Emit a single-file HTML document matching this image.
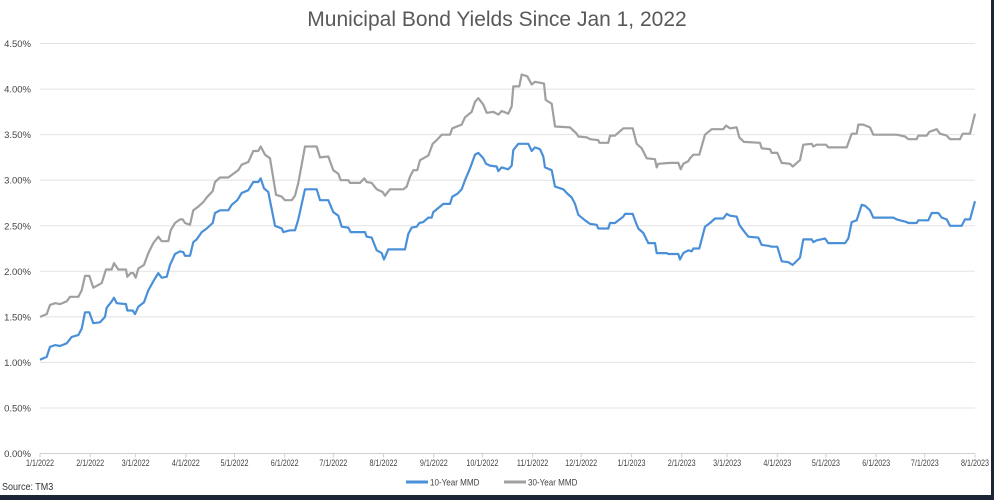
<!DOCTYPE html>
<html><head><meta charset="utf-8"><style>
body{margin:0;background:#fff;}
#wrap{position:relative;width:994px;height:500px;overflow:hidden;font-family:"Liberation Sans",sans-serif;}
</style></head><body>
<div id="wrap">
<svg id="chart" width="994" height="500"></svg>
</div>
<script>
// time units: linear time index, domain [120,2925] spans 1/1/2022 .. 8/1/2023 (577 days)
const yTickValues=[0,0.5,1,1.5,2,2.5,3,3.5,4,4.5];
const yTickLabels=["0.00%","0.50%","1.00%","1.50%","2.00%","2.50%","3.00%","3.50%","4.00%","4.50%"];
const xTickDays=[0,31,59,90,120,151,181,212,243,273,304,334,365,396,424,455,485,516,546,577];
const xTickLabels=["1/1/2022","2/1/2022","3/1/2022","4/1/2022","5/1/2022","6/1/2022","7/1/2022","8/1/2022","9/1/2022","10/1/2022","11/1/2022","12/1/2022","1/1/2023","2/1/2023","3/1/2023","4/1/2023","5/1/2023","6/1/2023","7/1/2023","8/1/2023"];
const t10=[120,140,150,165,180,200,215,235,245,255,268,280,300,315,320,335,342,350,378,382,398,405,415,432,445,460,475,485,500,510,525,540,550,555,570,580,590,605,620,638,645,660,685,695,712,725,745,760,775,782,792,805,825,845,850,870,885,895,915,950,960,985,1000,1015,1025,1045,1052,1095,1100,1115,1130,1145,1152,1165,1215,1225,1235,1250,1258,1270,1285,1295,1300,1320,1330,1350,1357,1372,1385,1395,1410,1425,1435,1450,1458,1470,1490,1495,1505,1525,1535,1540,1555,1585,1595,1605,1620,1630,1635,1655,1665,1690,1700,1715,1725,1735,1755,1770,1790,1795,1825,1830,1845,1870,1875,1898,1905,1915,1930,1945,1965,1970,2000,2005,2035,2040,2050,2065,2075,2080,2098,2115,2130,2145,2170,2180,2190,2210,2218,2230,2245,2275,2285,2305,2315,2332,2345,2365,2378,2400,2410,2435,2440,2450,2475,2485,2535,2545,2555,2570,2585,2595,2610,2620,2680,2690,2720,2725,2750,2755,2785,2795,2815,2825,2840,2850,2885,2895,2910,2925];
const v10=[1.03,1.06,1.17,1.19,1.18,1.21,1.28,1.30,1.37,1.55,1.55,1.43,1.44,1.50,1.60,1.67,1.71,1.65,1.64,1.57,1.57,1.53,1.61,1.66,1.79,1.89,1.98,1.93,1.94,2.07,2.19,2.22,2.21,2.17,2.17,2.32,2.35,2.43,2.47,2.53,2.64,2.67,2.67,2.73,2.78,2.86,2.89,2.98,2.98,3.02,2.91,2.87,2.50,2.47,2.43,2.45,2.45,2.57,2.90,2.90,2.78,2.78,2.65,2.61,2.49,2.48,2.43,2.43,2.38,2.37,2.23,2.20,2.13,2.24,2.24,2.41,2.48,2.49,2.53,2.54,2.59,2.59,2.65,2.71,2.74,2.74,2.82,2.85,2.90,3.00,3.13,3.28,3.30,3.24,3.18,3.16,3.15,3.10,3.14,3.12,3.16,3.33,3.40,3.40,3.32,3.36,3.34,3.26,3.14,3.11,2.93,2.90,2.86,2.81,2.74,2.62,2.56,2.52,2.51,2.47,2.47,2.53,2.53,2.60,2.63,2.63,2.56,2.47,2.42,2.31,2.31,2.20,2.20,2.19,2.19,2.13,2.20,2.23,2.22,2.25,2.25,2.49,2.53,2.58,2.58,2.63,2.61,2.60,2.51,2.45,2.38,2.37,2.29,2.28,2.27,2.27,2.11,2.10,2.07,2.15,2.35,2.35,2.32,2.34,2.36,2.31,2.31,2.36,2.54,2.56,2.73,2.72,2.67,2.59,2.59,2.57,2.54,2.53,2.53,2.56,2.56,2.64,2.64,2.59,2.57,2.50,2.50,2.57,2.57,2.77];
const t30=[120,140,150,165,180,200,210,235,245,255,268,280,295,305,318,335,342,355,378,382,392,400,407,415,432,445,460,475,485,505,512,525,540,548,555,570,580,595,610,620,638,645,660,685,700,715,725,745,760,775,782,795,810,828,845,855,875,885,895,915,950,960,985,1000,1015,1022,1045,1050,1080,1093,1100,1115,1130,1148,1155,1170,1210,1220,1230,1240,1252,1260,1285,1298,1310,1325,1350,1357,1385,1395,1415,1425,1435,1450,1460,1480,1490,1495,1505,1525,1535,1540,1558,1565,1582,1595,1605,1632,1637,1655,1665,1710,1730,1735,1760,1770,1795,1798,1825,1830,1845,1870,1898,1910,1925,1940,1965,1970,1975,2010,2035,2042,2050,2065,2070,2080,2098,2115,2135,2170,2178,2190,2210,2218,2232,2280,2285,2310,2315,2332,2345,2370,2378,2400,2410,2435,2440,2450,2478,2485,2540,2555,2570,2575,2590,2610,2620,2690,2715,2725,2750,2755,2780,2788,2810,2820,2840,2850,2880,2888,2910,2925];
const v30=[1.50,1.53,1.63,1.65,1.64,1.67,1.72,1.72,1.79,1.95,1.95,1.82,1.85,1.87,2.02,2.02,2.09,2.02,2.02,1.94,1.98,1.98,1.93,2.03,2.07,2.20,2.31,2.38,2.33,2.33,2.45,2.53,2.57,2.57,2.53,2.51,2.67,2.71,2.76,2.81,2.88,2.98,3.03,3.03,3.07,3.11,3.17,3.20,3.32,3.32,3.37,3.28,3.24,2.84,2.82,2.78,2.78,2.83,2.97,3.37,3.37,3.25,3.26,3.11,3.07,3.00,3.00,2.97,2.97,3.02,2.98,2.97,2.90,2.87,2.83,2.90,2.90,2.93,3.04,3.11,3.11,3.22,3.27,3.40,3.44,3.50,3.50,3.57,3.61,3.69,3.75,3.86,3.90,3.83,3.74,3.75,3.73,3.72,3.76,3.73,3.81,4.03,4.03,4.16,4.14,4.05,4.08,4.06,3.88,3.84,3.59,3.58,3.51,3.48,3.47,3.45,3.44,3.41,3.41,3.49,3.49,3.57,3.57,3.40,3.35,3.24,3.23,3.14,3.18,3.19,3.19,3.12,3.18,3.21,3.24,3.28,3.28,3.50,3.56,3.56,3.60,3.57,3.58,3.47,3.42,3.41,3.35,3.34,3.30,3.30,3.19,3.18,3.15,3.22,3.39,3.40,3.37,3.39,3.39,3.36,3.36,3.51,3.51,3.61,3.61,3.58,3.50,3.50,3.48,3.45,3.45,3.49,3.49,3.53,3.56,3.51,3.49,3.45,3.45,3.51,3.51,3.73];

const NS="http://www.w3.org/2000/svg";
const svg=document.getElementById('chart');
const X0=40,X1=975,Y0=453.5,PPU=91.1;
function xScale(t){return X0+(t-120)/(2925-120)*(X1-X0);}
function dayToT(d){return 120+d*(2925-120)/577;}
function yScale(v){return Y0-v*PPU;}
function mk(tag,attrs){const e=document.createElementNS(NS,tag);for(const k in attrs)e.setAttribute(k,attrs[k]);svg.appendChild(e);return e;}

const title=mk('text',{x:497,y:26,'text-anchor':'middle','font-size':21,fill:'#595959'});


title.textContent='Municipal Bond Yields Since Jan 1, 2022';

yTickValues.forEach((v,i)=>{
  const y=yScale(v);
  if(v>0){const g=mk('line',{x1:X0,x2:X1,y1:y,y2:y,stroke:'#e3e3e3','stroke-width':1});
  
  }
  const t=mk('text',{x:31,y:y+3.5,'text-anchor':'end','font-size':9.5,fill:'#444'});
  
  
  t.textContent=yTickLabels[i];
});
const ax=mk('line',{x1:X0,x2:X1,y1:Y0,y2:Y0,stroke:'#d0d0d0','stroke-width':1});


xTickDays.forEach((d,i)=>{
  const x=xScale(dayToT(d));
  const tk=mk('line',{x1:x,x2:x,y1:Y0,y2:Y0+4,stroke:'#d0d0d0'});
  
  
  const t=mk('text',{x:0,y:0,'text-anchor':'middle','font-size':9,fill:'#444',transform:'translate('+x.toFixed(1)+',466) scale(0.8,1)'});
  
  
  t.textContent=xTickLabels[i];
});
function line(ts,vs,color,name){
  const d=ts.map((t,i)=>(i?'L':'M')+xScale(t).toFixed(1)+','+yScale(vs[i]).toFixed(1)).join('');
  const p=mk('path',{d:d,fill:'none',stroke:color,'stroke-width':2.2,'stroke-linejoin':'round'});
  
  
}
line(t30,v30,'#a0a0a0','series-30-year-mmd');
line(t10,v10,'#4a90d9','series-10-year-mmd');

const l1=mk('line',{x1:406,x2:428,y1:482,y2:482,stroke:'#4a90d9','stroke-width':3});


const lt1=mk('text',{x:0,y:0,'font-size':9.5,fill:'#444',transform:'translate(430,485.5) scale(0.85,1)'});


lt1.textContent='10-Year MMD';
const l2=mk('line',{x1:504,x2:526,y1:482,y2:482,stroke:'#a0a0a0','stroke-width':3});


const lt2=mk('text',{x:0,y:0,'font-size':9.5,fill:'#444',transform:'translate(528,485.5) scale(0.85,1)'});


lt2.textContent='30-Year MMD';
const src=mk('text',{x:0,y:0,'font-size':10,fill:'#333',transform:'translate(2,490) scale(0.9,1)'});


src.textContent='Source: TM3';
const b1=mk('rect',{x:0,y:495,width:994,height:5,fill:'#1c2636'});


const b2=mk('rect',{x:991,y:0,width:3,height:500,fill:'#1c2636'});


</script>
</body></html>
